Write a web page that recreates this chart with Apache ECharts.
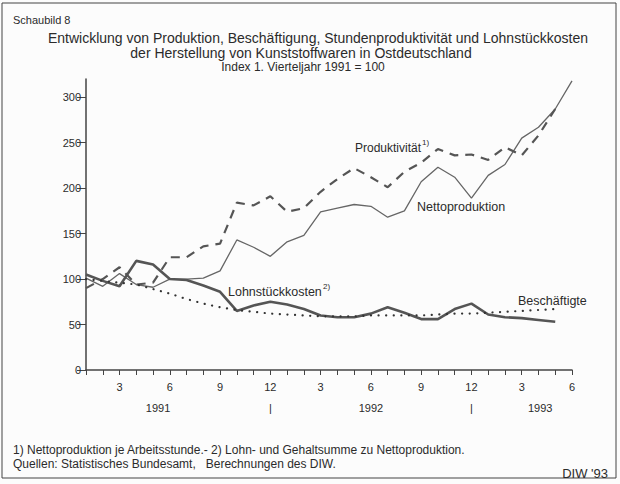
<!DOCTYPE html>
<html>
<head>
<meta charset="utf-8">
<script src="https://cdn.jsdelivr.net/npm/echarts@6/dist/echarts.min.js"></script>
<style>
  html, body { margin: 0; padding: 0; background: #fcfcfc; }
  #chart { width: 620px; height: 484px; }
</style>
</head>
<body>
<div id="chart"></div>
<script>
const chart = echarts.init(document.getElementById('chart'), null, { renderer: 'svg' });

// Monate Jan 1991 bis Jun 1993
const months = ['1','2','3','4','5','6','7','8','9','10','11','12',
                '1','2','3','4','5','6','7','8','9','10','11','12',
                '1','2','3','4','5','6'];

// Index 1. Vierteljahr 1991 = 100
const netto = [101, 92, 106, 94, 91, 100, 100, 101, 109, 143, 135, 125,
               141, 148, 174, 178, 182, 180, 168, 175, 207, 223, 212, 189,
               214, 226, 255, 267, 287, 318];
const produktivitaet = [90, 100, 113, 94, 96, 124, 124, 136, 139, 184, 181, 191,
                        174, 178, 196, 210, 222, 212, 201, 218, 228, 243, 236, 237,
                        231, 245, 236, 258, 287];
const lohnstueck = [105, 98, 92, 120, 116, 100, 99, 93, 86, 65, 71, 75,
                    72, 67, 60, 58, 58, 62, 69, 63, 56, 56, 67, 73,
                    61, 58, 57, 55, 53];
const beschaeftigte = [100, 98, 96, 94, 89, 84, 78, 73, 69, 66, 64, 62,
                       61, 60, 59, 59, 59, 60, 60, 60, 60, 61, 62, 62,
                       63, 64, 65, 66, 67];

const yTicks = [0, 50, 100, 150, 200, 250, 300];
const yearPos = [5.3, 12, 18, 24, 28.1];
const yearText = ['1991', '|', '1992', '|', '1993'];

const txt = '#2b2b2b';
const font = '"Liberation Sans", Arial, sans-serif';

function label(text, x, y, size, align) {
    return {
        type: 'text', x: x, y: y, silent: true,
        style: { text: text, fill: txt, font: size + 'px ' + font, align: align || 'left', verticalAlign: 'middle' }
    };
}

chart.setOption({
    backgroundColor: '#fcfcfc',
    animation: false,
    textStyle: { fontFamily: font },
    grid: { left: 86, right: 48, top: 79, bottom: 114 },
    xAxis: [{
        type: 'category',
        data: months,
        boundaryGap: false,
        axisLine: { lineStyle: { color: '#444', width: 1.5 } },
        axisTick: { interval: 0, length: 5, lineStyle: { color: '#444' } },
        axisLabel: {
            interval: (i) => (i + 1) % 3 === 0,
            margin: 11, fontSize: 11, color: txt
        },
        splitLine: { show: false }
    }, {
        type: 'value',
        min: 1, max: 30,
        position: 'bottom',
        offset: 24,
        axisLine: { show: false },
        axisTick: { show: false },
        splitLine: { show: false },
        axisLabel: {
            customValues: yearPos,
            formatter: (v) => yearText[yearPos.indexOf(v)],
            fontSize: 11, color: txt, margin: 8
        }
    }],
    yAxis: {
        type: 'value',
        min: 0, max: 320,
        axisLine: { show: true, lineStyle: { color: '#444', width: 1.5 } },
        axisTick: { show: true, length: 9, customValues: yTicks, lineStyle: { color: '#444' } },
        axisLabel: { customValues: yTicks, margin: 5, fontSize: 11, color: txt },
        splitLine: { show: false }
    },
    series: [{
        name: 'Nettoproduktion',
        type: 'line',
        data: netto,
        showSymbol: false,
        lineStyle: { color: '#666', width: 1.3 }
    }, {
        name: 'Produktivität',
        type: 'line',
        data: produktivitaet,
        showSymbol: false,
        lineStyle: { color: '#555', width: 2.2, type: [9, 7] }
    }, {
        name: 'Lohnstückkosten',
        type: 'line',
        data: lohnstueck,
        showSymbol: false,
        lineStyle: { color: '#555', width: 2.6 }
    }, {
        name: 'Beschäftigte',
        type: 'line',
        data: beschaeftigte,
        showSymbol: false,
        lineStyle: { color: '#333', width: 2.2, type: [0.1, 7.5], cap: 'round' }
    }],
    graphic: [
        { type: 'rect', silent: true, shape: { x: 2, y: 3, width: 614, height: 475 },
          style: { fill: 'none', stroke: '#444', lineWidth: 1 } },
        label('Schaubild 8', 13, 20, 11),
        label('Entwicklung von Produktion, Beschäftigung, Stundenproduktivität und Lohnstückkosten', 318, 38, 14, 'center'),
        label('der Herstellung von Kunststoffwaren in Ostdeutschland', 301, 53, 14, 'center'),
        label('Index 1. Vierteljahr 1991 = 100', 303, 67, 12, 'center'),
        label('Produktivität', 355, 148, 12),
        label('1)', 422, 142, 8),
        label('Nettoproduktion', 417, 207, 12.5),
        label('Lohnstückkosten', 228, 292, 12.5),
        label('2)', 323, 286, 8),
        label('Beschäftigte', 518, 301, 12.5),
        label('1) Nettoproduktion je Arbeitsstunde.- 2) Lohn- und Gehaltsumme zu Nettoproduktion.', 13, 450, 12),
        label('Quellen: Statistisches Bundesamt,   Berechnungen des DIW.', 13, 464, 12),
        label("DIW '93", 608, 473, 13, 'right')
    ]
});
</script>
</body>
</html>
